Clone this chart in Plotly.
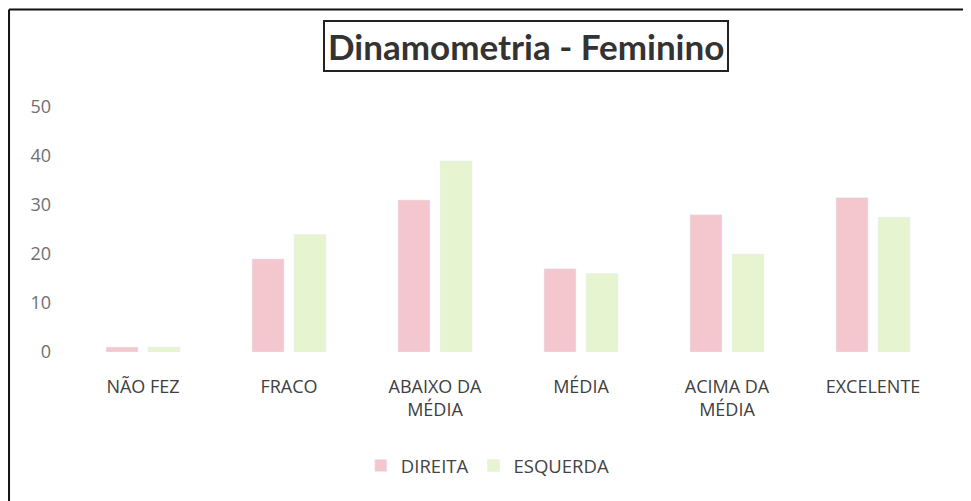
import plotly.graph_objects as go

categories = ["NÃO FEZ", "FRACO", "ABAIXO DA<br>MÉDIA", "MÉDIA", "ACIMA DA<br>MÉDIA", "EXCELENTE"]
direita = [1, 19, 31, 17, 28, 31.5]
esquerda = [1, 24, 39, 16, 20, 27.5]
y_ticks = [0, 10, 20, 30, 40, 50]

PINK = "#F4C6CD"
GREEN = "#E6F5CF"
LABEL_FONT = "'Open Sans', sans-serif"
TITLE_FONT = "Lato, 'Open Sans', sans-serif"

fig = go.Figure()
fig.add_trace(go.Bar(name="DIREITA", x=categories, y=direita, marker_color=PINK))
fig.add_trace(go.Bar(name="ESQUERDA", x=categories, y=esquerda, marker_color=GREEN))

fig.update_layout(
    width=971, height=501,
    margin=dict(l=62, r=33, t=99, b=157),
    paper_bgcolor="white", plot_bgcolor="white",
    barmode="group", bargap=0.425, bargroupgap=0.24,
    font=dict(family=LABEL_FONT, color="#555555", size=18),
    showlegend=True,
    legend=dict(orientation="h", x=0.477, xanchor="center", y=-0.465, yanchor="middle",
                font=dict(size=18.5, color="#444444"), itemwidth=30, traceorder="normal"),
    xaxis=dict(showgrid=False, showline=False, zeroline=False, ticks="",
               tickfont=dict(size=18, color="#404040"), ticklabelstandoff=22),
    yaxis=dict(range=[0, 50], tickvals=y_ticks, showgrid=False, zeroline=False,
               showline=False, ticks="", ticklabelstandoff=18,
               tickfont=dict(size=18, color="#707070")),
    annotations=[dict(
        text="<b>Dinamometria - Feminino</b>", xref="paper", yref="paper",
        x=0.52, y=1.247, xanchor="center", yanchor="middle", showarrow=False,
        font=dict(family=TITLE_FONT, size=35, color="#333333"),
        bordercolor="#222222", borderwidth=2, borderpad=3, bgcolor="white")],
    shapes=[
        dict(type="line", xref="paper", yref="paper", x0=-0.0696, x1=-0.0696, y0=1.398, y1=-0.62,
             line=dict(color="#111111", width=2)),
        dict(type="line", xref="paper", yref="paper", x0=-0.0696, x1=1.04, y0=1.398, y1=1.398,
             line=dict(color="#111111", width=2)),
    ],
)

fig.write_html("out.html")
